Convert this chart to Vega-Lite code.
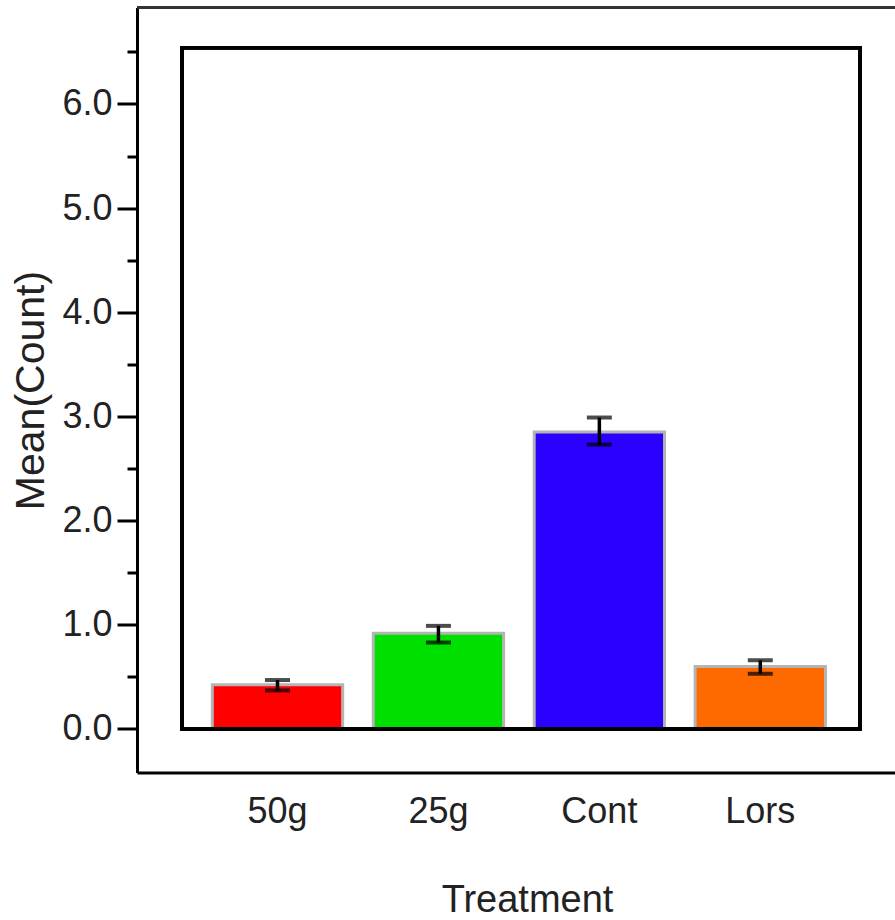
{
  "$schema": "https://vega.github.io/schema/vega-lite/v6.json",
  "width": 758,
  "height": 765,
  "autosize": {"type": "none"},
  "padding": {"left": 137, "top": 7.5, "right": 0, "bottom": 147.5},
  "background": "white",
  "config": {"view": {"stroke": null}, "font": "Liberation Sans"},
  "data": {"values": [
    {"Treatment": "50g", "mean": 0.425, "lo": 0.37, "hi": 0.47},
    {"Treatment": "25g", "mean": 0.92, "lo": 0.83, "hi": 0.99},
    {"Treatment": "Cont", "mean": 2.85, "lo": 2.73, "hi": 2.99},
    {"Treatment": "Lors", "mean": 0.60, "lo": 0.53, "hi": 0.66}
  ]},
  "layer": [
    {
      "encoding": {
        "x": {
          "field": "Treatment", "type": "nominal",
          "sort": ["50g", "25g", "Cont", "Lors"],
          "scale": {"paddingInner": 0.19, "paddingOuter": 0.45, "align": 0.52},
          "axis": {
            "domain": true, "domainWidth": 3, "domainColor": "black",
            "ticks": false, "labelAngle": 0, "labelFontSize": 36, "labelColor": "#222",
            "labelPadding": 22, "title": "Treatment", "titleFontSize": 38,
            "titleFontWeight": "normal", "titleColor": "#222", "titlePadding": 52,
            "titleX": 390
          }
        }
      },
      "layer": [
        {
          "mark": {"type": "bar", "stroke": "#b4b4b4", "strokeWidth": 3},
          "encoding": {
            "y": {
              "field": "mean", "type": "quantitative", "title": "Mean(Count)",
              "scale": {"domain": [-0.4176, 6.926], "nice": false, "zero": false},
              "axis": {
                "values": [0, 0.5, 1, 1.5, 2, 2.5, 3, 3.5, 4, 4.5, 5, 5.5, 6, 6.5],
                "labelExpr": "datum.value % 1 === 0 ? format(datum.value, '.1f') : ''",
                "tickSize": {"condition": {"test": "datum.value % 1 === 0", "value": 20}, "value": 10},
                "tickWidth": 3, "tickColor": "black",
                "domain": true, "domainWidth": 3, "domainColor": "black",
                "grid": false, "labelFontSize": 36, "labelColor": "#222", "labelPadding": 5,
                "titleFontSize": 41, "titleFontWeight": "normal", "titleColor": "#222",
                "titlePadding": 9
              }
            },
            "color": {
              "field": "Treatment", "type": "nominal", "legend": null,
              "scale": {"domain": ["50g", "25g", "Cont", "Lors"], "range": ["#ff0000", "#00e000", "#2b00ff", "#ff6a00"]}
            }
          }
        },
        {
          "mark": {"type": "rule", "color": "black", "strokeWidth": 3.5},
          "encoding": {
            "y": {"field": "lo", "type": "quantitative"},
            "y2": {"field": "hi"}
          }
        },
        {
          "mark": {"type": "tick", "color": "black", "thickness": 4, "size": 25},
          "encoding": {"y": {"field": "lo", "type": "quantitative"}}
        },
        {
          "mark": {"type": "tick", "color": "black", "thickness": 4, "size": 25},
          "encoding": {"y": {"field": "hi", "type": "quantitative"}}
        }
      ]
    },
    {
      "mark": {"type": "rule", "color": "#333", "strokeWidth": 3},
      "encoding": {"y": {"datum": 6.926}}
    },
    {
      "mark": {"type": "rect", "fill": "transparent", "stroke": "black", "strokeWidth": 3.5},
      "encoding": {
        "x": {"datum": 0.0594, "type": "quantitative", "scale": {"domain": [0, 1]}, "axis": null},
        "x2": {"datum": 0.9538},
        "y": {"datum": 6.54},
        "y2": {"datum": 0}
      }
    }
  ],
  "resolve": {"scale": {"x": "independent"}}
}
